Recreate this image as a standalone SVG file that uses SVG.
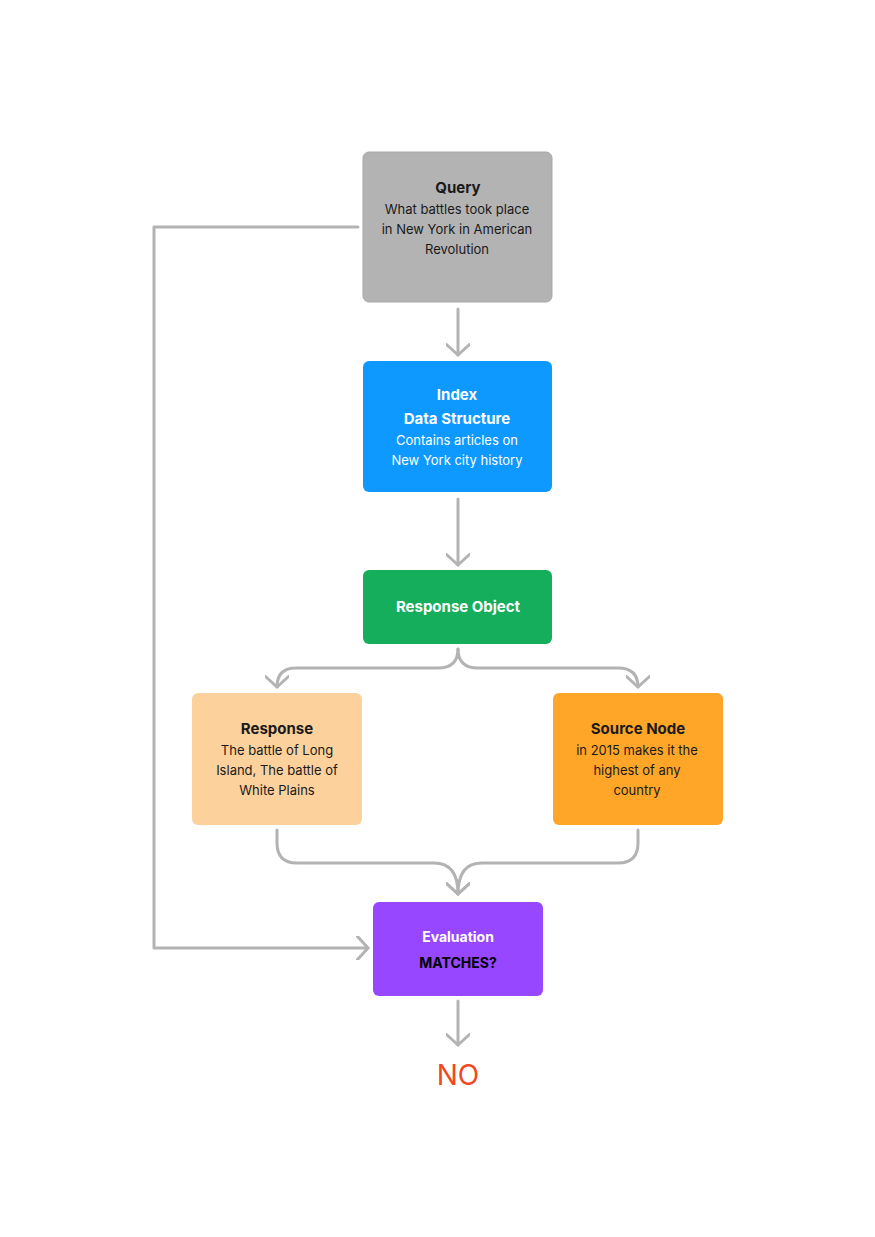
<svg xmlns="http://www.w3.org/2000/svg" width="875" height="1237" viewBox="0 0 875 1237">
<style>
text{font-family:Inter,"Noto Sans","Liberation Sans",sans-serif;text-anchor:middle}
.t{font-size:15px;font-weight:700}
.b{font-size:13px}
.dark{fill:#1a1a1a}
.w{fill:#ffffff}
.c{fill:none;stroke:#b3b3b3;stroke-width:3;stroke-linecap:round;stroke-linejoin:round}
</style>
<defs>
<marker id="ah" viewBox="0 0 24 24" refX="12" refY="12" markerWidth="24" markerHeight="24" markerUnits="userSpaceOnUse" orient="auto">
<path d="M1.5 0.5 L12 12 L1.5 23.5" fill="none" stroke="#b3b3b3" stroke-width="3" stroke-linecap="round" stroke-linejoin="round"/>
</marker>
</defs>
<rect width="875" height="1237" fill="#ffffff"/>
<g id="connectors">
<path class="c" d="M458 309 V355" marker-end="url(#ah)"/>
<path class="c" d="M458 499 V565" marker-end="url(#ah)"/>
<path class="c" d="M458 649 Q458 668 438 668 H296 Q277 668 277 687" marker-end="url(#ah)"/>
<path class="c" d="M458 649 Q458 668 478 668 H618 Q638 668 638 687" marker-end="url(#ah)"/>
<path class="c" d="M277 830 V843 Q277 863 297 863 H434 Q458 863 458 894" marker-end="url(#ah)"/>
<path class="c" d="M638 830 V843 Q638 863 618 863 H482 Q458 863 458 894" marker-end="url(#ah)"/>
<path class="c" d="M358 227 H154 V948 H368" marker-end="url(#ah)"/>
<path class="c" d="M458 1001 V1045" marker-end="url(#ah)"/>
</g>
<g id="query">
<rect x="363" y="152" width="189" height="150" rx="6" fill="#b3b3b3" stroke="#a8a8a8" stroke-width="1"/>
<text class="t dark" x="458" y="193">Query</text>
<text class="b dark" x="457" y="214">What battles took place</text>
<text class="b dark" x="457" y="234">in New York in American</text>
<text class="b dark" x="457" y="254">Revolution</text>
</g>
<g id="index">
<rect x="363" y="361" width="189" height="131" rx="6" fill="#0d99ff"/>
<text class="t w" x="457" y="400">Index</text>
<text class="t w" x="457" y="424">Data Structure</text>
<text class="b w" x="457" y="445">Contains articles on</text>
<text class="b w" x="457" y="465">New York city history</text>
</g>
<g id="response-object">
<rect x="363" y="570" width="189" height="74" rx="6" fill="#14ae5c"/>
<text class="t w" x="458" y="612">Response Object</text>
</g>
<g id="response">
<rect x="192" y="693" width="170" height="132" rx="6" fill="#fcd19c"/>
<text class="t dark" x="277" y="734">Response</text>
<text class="b dark" x="277" y="755">The battle of Long</text>
<text class="b dark" x="277" y="775">Island, The battle of</text>
<text class="b dark" x="277" y="795">White Plains</text>
</g>
<g id="source-node">
<rect x="553" y="693" width="170" height="132" rx="6" fill="#ffa629"/>
<text class="t dark" x="638" y="734">Source Node</text>
<text class="b dark" x="637" y="755">in 2015 makes it the</text>
<text class="b dark" x="637" y="775">highest of any</text>
<text class="b dark" x="637" y="795">country</text>
</g>
<g id="evaluation">
<rect x="373" y="902" width="170" height="94" rx="6" fill="#9747ff"/>
<text class="t w" x="458" y="942" style="font-size:14px">Evaluation</text>
<text class="t" x="458" y="968" style="font-size:14px;fill:#000">MATCHES?</text>
</g>
<g id="no">
<text x="458" y="1085" style="font-size:28px;fill:#f24822">NO</text>
</g>
</svg>
